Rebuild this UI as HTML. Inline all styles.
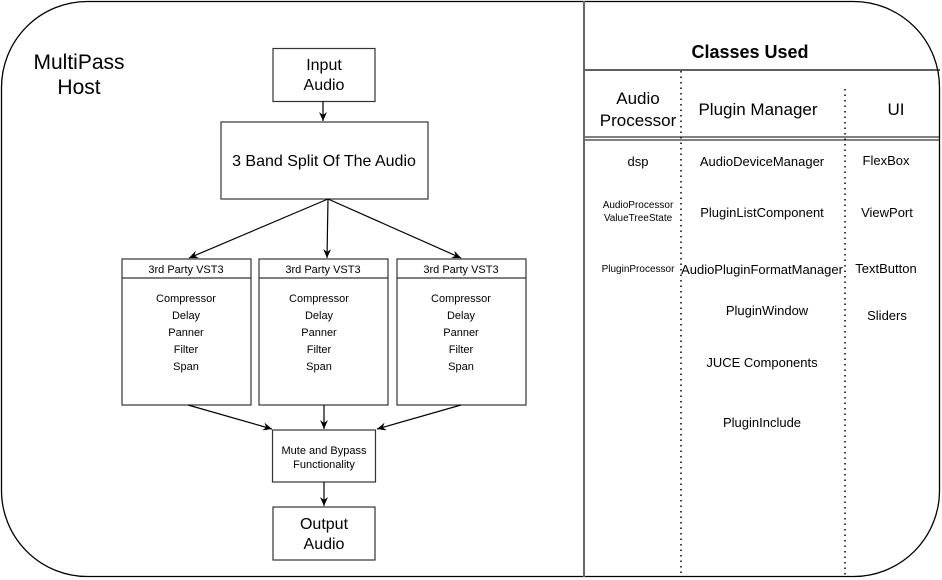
<!DOCTYPE html>
<html><head><meta charset="utf-8"><style>
html,body{margin:0;padding:0;background:#fff;}
svg{display:block;font-family:"Liberation Sans",Arial,sans-serif;}
</style></head><body>
<svg width="942" height="580" viewBox="0 0 942 580" xmlns="http://www.w3.org/2000/svg">
<defs><marker id="a" markerWidth="10" markerHeight="10" refX="9" refY="5" orient="auto" markerUnits="userSpaceOnUse"><path d="M0,1 L9,5 L0,9 L3,5 Z" fill="#000"/></marker></defs>
<rect x="1.5" y="1.5" width="938" height="575" rx="86" ry="86" fill="#fff" stroke="#000" stroke-width="1.3"/>
<line x1="584" y1="1" x2="584" y2="577" stroke="#666" stroke-width="2"/>
<line x1="585" y1="70" x2="940" y2="70" stroke="#000" stroke-width="1.2"/>
<line x1="585" y1="137" x2="940" y2="137" stroke="#000" stroke-width="1"/>
<line x1="585" y1="140" x2="940" y2="140" stroke="#000" stroke-width="1"/>
<line x1="681" y1="71" x2="681" y2="577" stroke="#000" stroke-width="1.5" stroke-dasharray="1.5,4"/>
<line x1="845" y1="89" x2="845" y2="577" stroke="#000" stroke-width="1.5" stroke-dasharray="1.5,4"/>
<text x="750" y="58" font-size="18" font-weight="bold" text-anchor="middle">Classes Used</text>
<g font-size="17" text-anchor="middle">
<text x="638" y="104">Audio</text><text x="638" y="126">Processor</text>
<text x="758" y="115">Plugin Manager</text>
<text x="896" y="115">UI</text>
</g>
<g font-size="13" text-anchor="middle">
<text x="638" y="166">dsp</text>
<text x="762" y="166">AudioDeviceManager</text>
<text x="886" y="165">FlexBox</text>
<text x="762" y="217">PluginListComponent</text>
<text x="887" y="217">ViewPort</text>
<text x="762" y="274">AudioPluginFormatManager</text>
<text x="886" y="273">TextButton</text>
<text x="767" y="315">PluginWindow</text>
<text x="887" y="320">Sliders</text>
<text x="762" y="367">JUCE Components</text>
<text x="762" y="427">PluginInclude</text>
</g>
<g font-size="10" text-anchor="middle">
<text x="638" y="208">AudioProcessor</text><text x="638" y="221">ValueTreeState</text>
<text x="638" y="272">PluginProcessor</text>
</g>
<text x="79" y="69" font-size="21" text-anchor="middle">MultiPass</text>
<text x="79" y="94" font-size="21" text-anchor="middle">Host</text>
<g fill="#fff" stroke="#333" stroke-width="1.2">
<rect x="273" y="48.5" width="102" height="53"/>
<rect x="221" y="122" width="207" height="77"/>
<rect x="122" y="259" width="129" height="146"/>
<rect x="259" y="259" width="129" height="146"/>
<rect x="397" y="259" width="129" height="146"/>
<rect x="272.5" y="430" width="103" height="52"/>
<rect x="273" y="507" width="102" height="53"/>
</g>
<g stroke="#333" stroke-width="1.2">
<line x1="122" y1="278" x2="251" y2="278"/><line x1="259" y1="278" x2="388" y2="278"/><line x1="397" y1="278" x2="526" y2="278"/>
</g>
<g stroke="#000" stroke-width="1.2" fill="none" marker-end="url(#a)">
<line x1="323" y1="101" x2="323" y2="121"/>
<line x1="328" y1="199" x2="189" y2="258"/>
<line x1="328" y1="199" x2="327" y2="258"/>
<line x1="328" y1="199" x2="461" y2="258"/>
<line x1="188" y1="405" x2="272" y2="429"/>
<line x1="324" y1="405" x2="324" y2="429"/>
<line x1="461" y1="405" x2="377" y2="429"/>
<line x1="324" y1="482" x2="324" y2="506"/>
</g>
<g font-size="16" text-anchor="middle">
<text x="324" y="70">Input</text><text x="324" y="90">Audio</text>
<text x="324" y="166">3 Band Split Of The Audio</text>
<text x="324" y="529">Output</text><text x="324" y="549">Audio</text>
</g>
<g font-size="11" text-anchor="middle">
<text x="186" y="273">3rd Party VST3</text><text x="323" y="273">3rd Party VST3</text><text x="461" y="273">3rd Party VST3</text>
<text x="324" y="454">Mute and Bypass</text><text x="324" y="468">Functionality</text>
</g>
<g font-size="11" text-anchor="middle">
<text x="186" y="302">Compressor</text><text x="186" y="319">Delay</text><text x="186" y="336">Panner</text><text x="186" y="353">Filter</text><text x="186" y="370">Span</text>
<text x="319" y="302">Compressor</text><text x="319" y="319">Delay</text><text x="319" y="336">Panner</text><text x="319" y="353">Filter</text><text x="319" y="370">Span</text>
<text x="461" y="302">Compressor</text><text x="461" y="319">Delay</text><text x="461" y="336">Panner</text><text x="461" y="353">Filter</text><text x="461" y="370">Span</text>
</g>
</svg>
</body></html>
